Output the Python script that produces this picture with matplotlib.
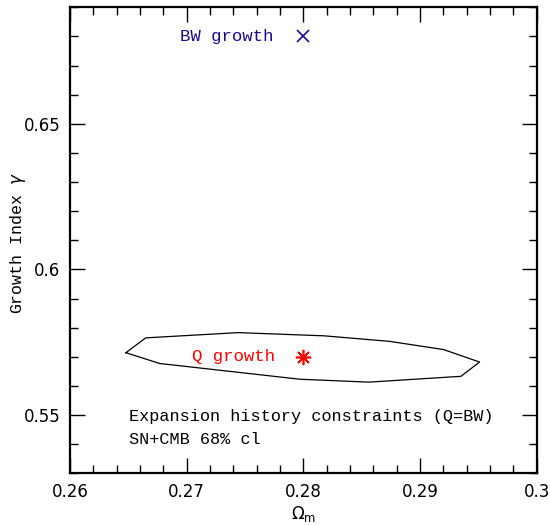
import matplotlib
matplotlib.use("Agg")
import matplotlib.pyplot as plt

# contour (SN+CMB 68% cl) vertices
contour_om = [0.2648, 0.2665, 0.2744, 0.2818, 0.2874, 0.2920, 0.2951, 0.2935,
              0.2856, 0.2797, 0.2677, 0.2648]
contour_gamma = [0.5714, 0.5765, 0.5783, 0.5772, 0.5753, 0.5725, 0.5682, 0.5633,
                 0.5613, 0.5623, 0.5677, 0.5714]

bw_point = (0.28, 0.680)
q_point = (0.28, 0.570)

xticks = [0.26, 0.27, 0.28, 0.29, 0.3]
xticklabels = ["0.26", "0.27", "0.28", "0.29", "0.3"]
yticks = [0.55, 0.6, 0.65]
yticklabels = ["0.55", "0.6", "0.65"]

fig = plt.figure(figsize=(5.5, 5.25), dpi=100)
ax = fig.add_axes([0.127, 0.0985, 0.849, 0.8875])

ax.plot(contour_om, contour_gamma, color="black", lw=0.9)
ax.plot([bw_point[0]], [bw_point[1]], marker="x", color="#1a0a8c", ms=8, mew=1.2, ls="none")
ax.plot([q_point[0]], [q_point[1]], marker=(8, 2, 0), color="red", ms=11, mew=1.2, ls="none")

mono = "Liberation Mono"
ax.text(0.2694, bw_point[1], "BW growth", color="#1a0a8c", fontsize=12.5, family=mono,
        va="center", ha="left")
ax.text(0.2705, q_point[1], "Q growth", color="red", fontsize=12.5, family=mono,
        va="center", ha="left")
ax.text(0.2651, 0.5494, "Expansion history constraints (Q=BW)", color="black",
        fontsize=12.2, family=mono, va="center", ha="left")
ax.text(0.2651, 0.5416, "SN+CMB 68% cl", color="black",
        fontsize=12.2, family=mono, va="center", ha="left")

ax.set_xlim(0.26, 0.30)
ax.set_ylim(0.53, 0.69)
ax.set_xticks(xticks)
ax.set_xticklabels(xticklabels)
ax.set_yticks(yticks)
ax.set_yticklabels(yticklabels)
ax.set_xticks([0.26 + 0.002 * i for i in range(21)], minor=True)
ax.set_yticks([0.53 + 0.01 * i for i in range(17)], minor=True)
ax.tick_params(which="both", direction="in", top=True, right=True, width=1.0,
               labelsize=12, pad=7)
ax.tick_params(which="major", length=11)
ax.tick_params(which="minor", length=5.5)
for s in ax.spines.values():
    s.set_linewidth(1.6)

ax.set_xlabel(r"$\Omega_{\rm m}$", fontsize=12, labelpad=2)
fig.text(18 / 550, 1 - 243 / 525, r"Growth Index $\gamma$", fontsize=12, family=mono,
         rotation=90, ha="center", va="center")

fig.savefig("out.png", dpi=100)
